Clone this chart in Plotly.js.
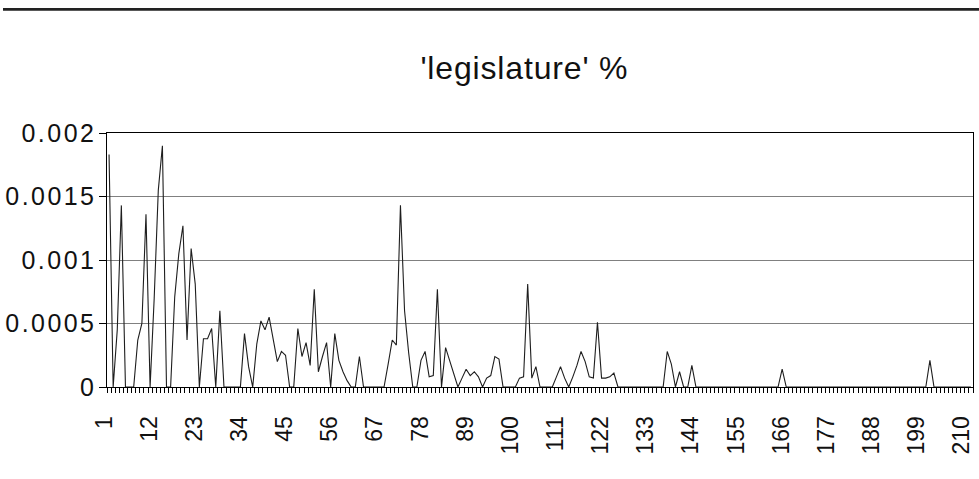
<!DOCTYPE html>
<html>
<head>
<meta charset="utf-8">
<script src="https://cdn.plot.ly/plotly-3.0.1.min.js"></script>
<style>
  html, body { margin: 0; padding: 0; background: #ffffff; }
  #chart { width: 979px; height: 479px; }
</style>
</head>
<body>
<div id="chart"></div>
<script>
// Share of the word 'legislature' per category (1..211)
const values = [
  0.00183, 0, 0.00045, 0.00143, 0, 0, 0, 0.00037, 0.0005, 0.00136,
  0, 0.0007, 0.00155, 0.0019, 0, 0, 0.00071, 0.00105, 0.00127, 0.00037,
  0.00109, 0.00081, 0, 0.00038, 0.00038, 0.00046, 0, 0.0006, 0, 0,
  0, 0, 0, 0.00042, 0.00016, 0, 0.00034, 0.00052, 0.00045, 0.00055,
  0.00038, 0.0002, 0.00028, 0.00025, 0, 0, 0.00046, 0.00024, 0.00035, 0.00017,
  0.00077, 0.00012, 0.00024, 0.00035, 0, 0.00042, 0.00021, 0.00012, 0.00005, 0,
  0, 0.00024, 0, 0, 0, 0, 0, 0, 0.00018, 0.00037,
  0.00033, 0.00143, 0.0006, 0.00027, 0, 0, 0.00021, 0.00028, 0.00008, 0.00009,
  0.00077, 0, 0.00031, 0.0002, 0.0001, 0, 0.00007, 0.00014, 0.00009, 0.00012,
  0.00008, 0, 0.00007, 0.00009, 0.00024, 0.00022, 0, 0, 0, 0,
  0.00007, 0.00008, 0.00081, 0.00007, 0.00016, 0, 0, 0, 0, 0.00008,
  0.00016, 0.00007, 0, 0.00008, 0.00017, 0.00028, 0.0002, 0.00008, 0.00007, 0.00051,
  0.00007, 0.00007, 0.00008, 0.00011, 0, 0, 0, 0, 0, 0,
  0, 0, 0, 0, 0, 0, 0.00028, 0.00018, 0, 0.00012,
  0, 0, 0.00017, 0, 0, 0, 0, 0, 0, 0,
  0, 0, 0, 0, 0, 0, 0, 0, 0, 0,
  0, 0, 0, 0, 0.00014, 0, 0, 0, 0, 0,
  0, 0, 0, 0, 0, 0, 0, 0, 0, 0,
  0, 0, 0, 0, 0, 0, 0, 0, 0, 0,
  0, 0, 0, 0, 0, 0, 0, 0, 0, 0,
  0.00021, 0, 0, 0, 0, 0, 0, 0, 0, 0,
  0
];
// category index for each value (1..N)
const categories = values.map((v, i) => i + 1);
const xTickLabels = [1, 12, 23, 34, 45, 56, 67, 78, 89, 100, 111, 122, 133, 144, 155, 166, 177, 188, 199, 210];
const yTickValues = [0, 0.0005, 0.001, 0.0015, 0.002];
const yTickLabels = ['0', '0.0005', '0.001', '0.0015', '0.002'];
const chartTitle = "'legislature' %";

const W = 979, H = 479;
const L = 107, R = 6, T = 133, B = 92;
const pw = W - L - R, ph = H - T - B;
const px = X => (X - L) / pw;
const py = Y => (H - B - Y) / ph;

const trace = {
  x: categories,
  y: values,
  type: 'scatter',
  mode: 'lines',
  line: { color: '#1e1e1e', width: 1.1 },
  hoverinfo: 'x+y'
};

const layout = {
  width: W, height: H,
  margin: { l: L, r: R, t: T, b: B, pad: 0 },
  paper_bgcolor: '#ffffff',
  plot_bgcolor: '#ffffff',
  showlegend: false,
  font: { family: 'Liberation Sans, Arial, sans-serif', color: '#111111', size: 23 },
  title: {
    text: chartTitle,
    font: { family: 'Liberation Sans, Arial, sans-serif', size: 32, color: '#111111' },
    xref: 'container', yref: 'container',
    x: 524 / W, xanchor: 'center',
    y: 1 - 68 / H, yanchor: 'middle'
  },
  xaxis: {
    range: [0.5, categories.length + 0.5],
    tickmode: 'array',
    tickvals: xTickLabels,
    ticktext: xTickLabels.map(String),
    tickangle: -90,
    ticks: '',
    ticklabelshift: -5,
    ticklabelstandoff: 19,
    showgrid: false,
    zeroline: false,
    showline: true,
    linecolor: '#000000',
    linewidth: 1,
    mirror: true,
    tickfont: { size: 23 },
    minor: { ticks: 'outside', tick0: 0.5, dtick: 1, ticklen: 5, tickcolor: '#000000', tickwidth: 1, showgrid: false }
  },
  yaxis: {
    range: [0, 0.002],
    tickmode: 'array',
    tickvals: yTickValues,
    ticktext: yTickLabels,
    ticks: 'outside',
    ticklen: 7,
    tickcolor: '#000000',
    showgrid: true,
    gridcolor: '#808080',
    gridwidth: 1,
    zeroline: false,
    showline: true,
    linecolor: '#000000',
    linewidth: 1,
    mirror: true,
    tickfont: { size: 25 }
  },
  shapes: [
    {
      type: 'rect', xref: 'paper', yref: 'paper',
      x0: px(3), x1: px(979), y0: py(10.7), y1: py(8),
      fillcolor: '#222222', line: { width: 0 }, layer: 'above'
    }
  ]
};

// the reference's text has slightly looser letter spacing than the local fonts
function loosen(selector, factor) {
  document.querySelectorAll(selector).forEach(t => {
    const len = t.getComputedTextLength();
    if (len > 0 && t.textContent.length > 1) {
      t.setAttribute('lengthAdjust', 'spacing');
      t.setAttribute('textLength', (len * factor).toFixed(2));
    }
  });
}

Plotly.newPlot('chart', [trace], layout, { displayModeBar: false, staticPlot: true }).then(() => {
  loosen('.ytick text', 1.16);
  loosen('.gtitle', 1.06);
});
</script>
</body>
</html>
